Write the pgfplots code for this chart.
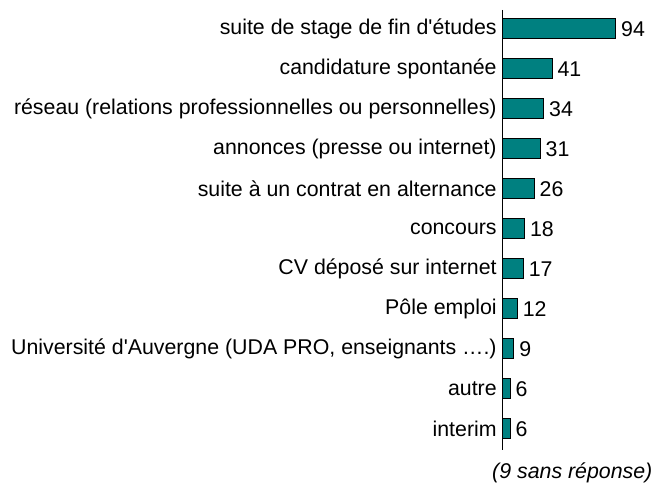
\documentclass[border=0pt]{standalone}
\usepackage{fontspec}
\setmainfont{Liberation Sans}[Ligatures=TeXOff]
\usepackage{pgfplots}
\pgfplotsset{compat=1.18}
\definecolor{barteal}{RGB}{0,128,128}

\begin{document}
\fontsize{12.8}{15}\selectfont
\begin{tikzpicture}
\begin{axis}[
  at={(0,0)}, anchor=south west,
  scale only axis,
  width=90.6pt, height=264pt,
  xbar, bar width=12pt,
  xmin=0, xmax=126,
  ymin=-0.475, ymax=10.525,
  y dir=reverse,
  axis x line=none,
  axis y line*=left,
  axis line style={black, line width=0.6pt},
  ytick=data,
  yticklabels={suite de stage de fin d'études,candidature spontanée,réseau (relations professionnelles ou personnelles),annonces (presse ou internet),suite à un contrat en alternance,concours,CV déposé sur internet,Pôle emploi,{Université d'Auvergne (UDA PRO, enseignants ….)},autre,interim},
  major tick length=0pt,
  yticklabel style={anchor=east, inner sep=0pt, xshift=-3.6pt, font=\fontsize{12.8}{15}\selectfont},
  /pgf/number format/assume math mode=true,
  nodes near coords,
  nodes near coords style={anchor=west, inner sep=0pt, xshift=3pt, font=\fontsize{12.8}{15}\selectfont, text=black},
  clip=false,
]
\addplot[fill=barteal, draw=black, line width=0.6pt] coordinates {
  (94,0) (41,1) (34,2) (31,3) (26,4) (18,5) (17,6) (12,7) (9,8) (6,9) (6,10)
};
\end{axis}
\node[anchor=base east, inner sep=0pt, font=\itshape\fontsize{12.8}{15}\selectfont] at (89.8pt,-17.4pt) {(9 sans réponse)};
\useasboundingbox (-301.8pt,-19.8pt) rectangle (91.8pt,270pt);
\end{tikzpicture}
\end{document}
